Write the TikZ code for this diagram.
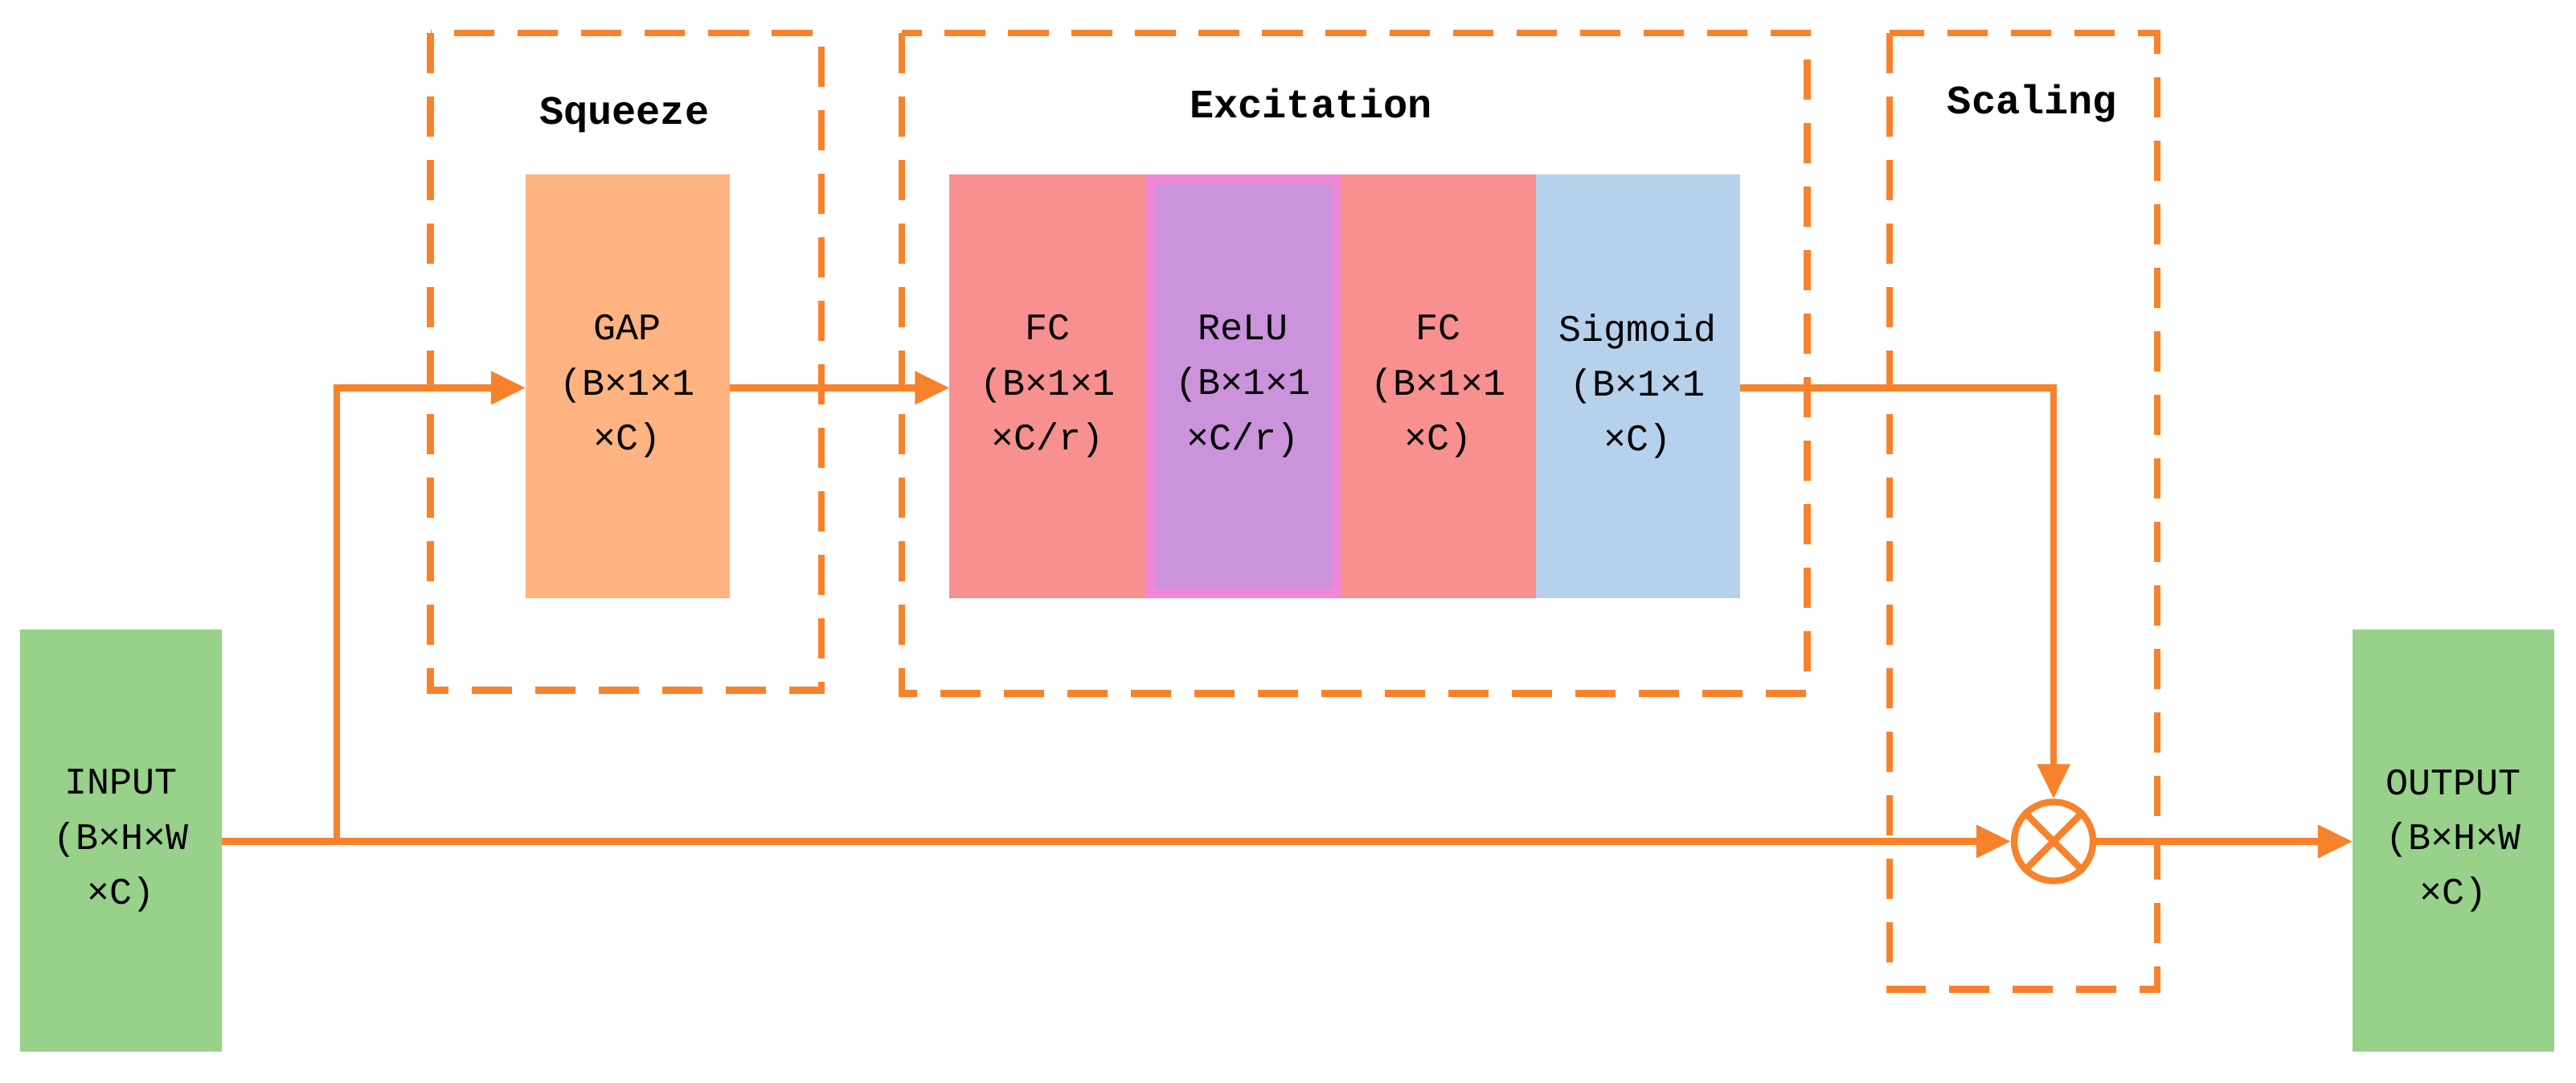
\documentclass[tikz,border=0pt]{standalone}
\usepackage{fontspec}
\setmonofont{Liberation Mono}
\usetikzlibrary{arrows.meta}
\definecolor{org}{HTML}{F7822B}
\definecolor{grn}{HTML}{97D18A}
\definecolor{gap}{HTML}{FFB380}
\definecolor{fc}{HTML}{F99090}
\definecolor{relu}{HTML}{CC93DD}
\definecolor{relub}{HTML}{F088D8}
\definecolor{sig}{HTML}{B6D1EB}
\tikzset{
  blk/.style={draw=none,inner sep=0pt,align=center,font=\ttfamily\fontsize{13}{19}\selectfont},
  dbox/.style={draw=org,line width=2.3pt,dash pattern=on 14pt off 8pt},
  ttl/.style={font=\ttfamily\bfseries\fontsize{14}{16}\selectfont},
  conn/.style={draw=org,line width=2.3pt,-{Triangle[length=12pt,width=11pt]}},
  plain/.style={draw=org,line width=2.3pt}
}
\begin{document}
\begin{tikzpicture}[x=0.02cm,y=-0.02cm]
\useasboundingbox (0,0) rectangle (1568,659);
\fill[white] (0,0) rectangle (1568,659);
% dashed groups
\draw[dbox] (262,20) rectangle (500,420);
\draw[dbox] (549,20) rectangle (1100,422);
\draw[dbox] (1150,20) rectangle (1313,602);
\node[ttl] (t1) at (380,70) {Squeeze};
\node[ttl] (t2) at (798,63) {Excitation};
\node[ttl] (t3) at (1237,63) {Scaling};
% blocks
\fill[grn] (12,383) rectangle (135,640);
\node[blk] (in) at (73.5,511.5) {INPUT\\(B×H×W\\×C)};
\fill[grn] (1432,383) rectangle (1555,640);
\node[blk] (out) at (1493.5,511.5) {OUTPUT\\(B×H×W\\×C)};
\fill[gap] (320,106) rectangle (444,364);
\node[blk] (gapn) at (382,235) {GAP\\(B×1×1\\×C)};
\fill[fc] (578,106) rectangle (697,364);
\node[blk] (fc1) at (637.5,235) {FC\\(B×1×1\\×C/r)};
\fill[relub] (697,106) rectangle (816,364);
\fill[relu] (703,112) rectangle (811,358);
\node[blk] (relun) at (756.5,235) {ReLU\\(B×1×1\\×C/r)};
\fill[fc] (816,106) rectangle (935,364);
\node[blk] (fc2) at (875.5,235) {FC\\(B×1×1\\×C)};
\fill[sig] (935,106) rectangle (1059,364);
\node[blk] (sign) at (997,235) {Sigmoid\\(B×1×1\\×C)};
% multiply
\node[draw=org,line width=2.3pt,circle,minimum size=48\pgflinewidth,inner sep=0pt,minimum size=0.96cm] (mul) at (1250,512) {};
\draw[plain] (mul.north west) -- (mul.south east) (mul.north east) -- (mul.south west);
% coordinates
\coordinate (inr) at (135,512);
\coordinate (br) at (205,512);
\coordinate (brtop) at (205,236);
\coordinate (gapl) at (320,236);
\coordinate (gapr) at (444,236);
\coordinate (fcl) at (578,236);
\coordinate (sigr) at (1059,236);
\coordinate (corner) at (1250,236);
\coordinate (outl) at (1432,512);
% connectors
\draw[conn] (inr) -- (mul.west);
\draw[conn] (br) -- (brtop) -- (gapl);
\draw[conn] (gapr) -- (fcl);
\draw[conn] (sigr) -- (corner) -- (mul.north);
\draw[conn] (mul.east) -- (outl);
\end{tikzpicture}
\end{document}
